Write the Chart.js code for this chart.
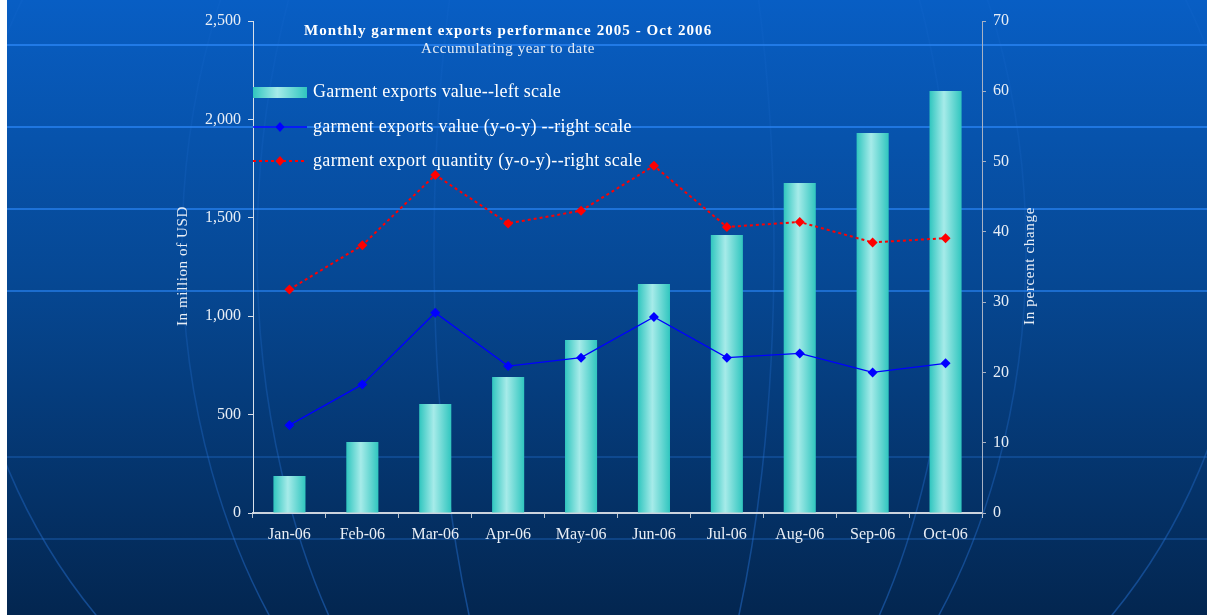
<!DOCTYPE html>
<html><head><meta charset="utf-8">
<script src="https://cdn.jsdelivr.net/npm/chart.js@4/dist/chart.umd.min.js"></script>
<style>html,body{margin:0;padding:0;background:#fff;overflow:hidden}</style>
</head><body>
<canvas id="c" width="1207" height="615" style="display:block;width:1207px;height:615px"></canvas>
<script>
const categories = ['Jan-06','Feb-06','Mar-06','Apr-06','May-06','Jun-06','Jul-06','Aug-06','Sep-06','Oct-06'];
const exportValue = [188, 361, 554, 691, 879, 1164, 1413, 1677, 1931, 2144];
const valueYoY = [12.5, 18.3, 28.5, 20.9, 22.1, 27.9, 22.1, 22.7, 20.0, 21.3];
const quantityYoY = [31.8, 38.1, 48.1, 41.2, 43.0, 49.4, 40.7, 41.4, 38.5, 39.1];
const leftAxis = {min: 0, max: 2500, step: 500};
const rightAxis = {min: 0, max: 70, step: 10};
const titleText = 'Monthly garment exports performance 2005 - Oct 2006';
const subtitleText = 'Accumulating year to date';
const legendLabels = ['Garment exports value--left scale', 'garment exports value (y-o-y) --right scale', 'garment export quantity (y-o-y)--right scale'];
const leftTitle = 'In million of USD';
const rightTitle = 'In percent change';

const SERIF = '"Liberation Serif", "Times New Roman", serif';
const TXT = '#e8eef6';
const BAR_PCT = 0.44;

function barGradient(c, x0, x1) {
  const g = c.createLinearGradient(x0, 0, x1, 0);
  g.addColorStop(0, '#30c6bf');
  g.addColorStop(0.45, '#a6ebe9');
  g.addColorStop(1, '#30c6bf');
  return g;
}

function drawFit(c, text, x, y, font, target, align) {
  c.font = font;
  if ('letterSpacing' in c) c.letterSpacing = '0px';
  const w = c.measureText(text).width;
  const ls = (target - w) / text.length;
  if ('letterSpacing' in c) c.letterSpacing = ls.toFixed(2) + 'px';
  c.textAlign = 'left';
  c.textBaseline = 'middle';
  const x0 = align === 'center' ? x - target / 2 : x;
  c.fillText(text, x0, y);
  if ('letterSpacing' in c) c.letterSpacing = '0px';
}

const bgPlugin = {
  id: 'bg',
  beforeDraw(chart) {
    const c = chart.ctx, W = chart.width, H = chart.height;
    c.save();
    const g = c.createLinearGradient(0, 0, 0, H);
    g.addColorStop(0, '#085ec4');
    g.addColorStop(0.45, '#064894');
    g.addColorStop(1, '#032650');
    c.fillStyle = g;
    c.fillRect(0, 0, W, H);
    // globe meridians (faint)
    c.lineWidth = 1.5;
    [170, 347, 422, 640].forEach((rx, i) => {
      const mg = c.createLinearGradient(0, 0, 0, H);
      mg.addColorStop(0, 'rgba(40,120,225,0.08)');
      mg.addColorStop(0.5, 'rgba(40,120,225,0.2)');
      mg.addColorStop(1, 'rgba(40,120,225,0.45)');
      c.strokeStyle = mg;
      c.beginPath();
      c.ellipse(604, 250, rx, 600, 0, 0, Math.PI * 2);
      c.stroke();
    });
    // latitude lines
    const lines = [[45, 'rgba(40,130,240,0.8)'], [127, 'rgba(40,130,240,0.75)'], [209, 'rgba(40,130,240,0.7)'],
                   [291, 'rgba(40,130,240,0.65)'], [457, 'rgba(40,120,220,0.3)'], [539, 'rgba(40,120,220,0.3)']];
    c.lineWidth = 2;
    lines.forEach(([y, col]) => {
      c.strokeStyle = col;
      c.beginPath(); c.moveTo(0, y); c.lineTo(W, y); c.stroke();
    });
    c.fillStyle = '#ffffff';
    c.fillRect(0, 0, 7, H);
    c.restore();
  },
  afterDraw(chart) {
    const c = chart.ctx;
    c.save();
    c.fillStyle = '#ffffff';
    drawFit(c, titleText, 508, 31, 'bold 15px ' + SERIF, 408, 'center');
    c.fillStyle = TXT;
    drawFit(c, subtitleText, 508, 49, '15px ' + SERIF, 174, 'center');
    // legend
    const lx0 = 253, lx1 = 307, tx = 313;
    const ys = [92, 127, 161];
    c.fillStyle = barGradient(c, lx0, lx1);
    c.fillRect(lx0, ys[0] - 5, lx1 - lx0, 11);
    c.strokeStyle = '#0000ff'; c.lineWidth = 1.3; c.setLineDash([]);
    c.beginPath(); c.moveTo(lx0, ys[1]); c.lineTo(lx1, ys[1]); c.stroke();
    c.strokeStyle = '#ff0000'; c.lineWidth = 2; c.setLineDash([3, 3]);
    c.beginPath(); c.moveTo(lx0, ys[2]); c.lineTo(lx1, ys[2]); c.stroke();
    c.setLineDash([]);
    const diamond = (x, y, col) => {
      c.fillStyle = col; c.beginPath();
      c.moveTo(x, y - 5); c.lineTo(x + 4.5, y); c.lineTo(x, y + 5); c.lineTo(x - 4.5, y); c.closePath(); c.fill();
    };
    diamond(280, ys[1], '#0000ff');
    diamond(280, ys[2], '#ff0000');
    c.fillStyle = '#ffffff';
    drawFit(c, legendLabels[0], tx, ys[0], '18px ' + SERIF, 248, 'left');
    drawFit(c, legendLabels[1], tx, ys[1], '18px ' + SERIF, 319, 'left');
    drawFit(c, legendLabels[2], tx, ys[2], '18px ' + SERIF, 329, 'left');
    // axis titles
    c.fillStyle = TXT;
    c.save(); c.translate(183, 266); c.rotate(-Math.PI / 2);
    drawFit(c, leftTitle, 0, 0, '15px ' + SERIF, 120, 'center'); c.restore();
    c.save(); c.translate(1030, 266); c.rotate(-Math.PI / 2);
    drawFit(c, rightTitle, 0, 0, '15px ' + SERIF, 118, 'center'); c.restore();
    c.restore();
  }
};

const tickFont = {family: SERIF, size: 16};

new Chart(document.getElementById('c'), {
  data: {
    labels: categories,
    datasets: [
      {
        type: 'line', label: legendLabels[1], data: valueYoY, yAxisID: 'y1', order: 1,
        borderColor: '#0000ff', borderWidth: 1.3, pointStyle: 'rectRot', pointRadius: 5,
        pointBackgroundColor: '#0000ff', pointBorderColor: '#0000ff', pointBorderWidth: 0, tension: 0
      },
      {
        type: 'line', label: legendLabels[2], data: quantityYoY, yAxisID: 'y1', order: 2,
        borderColor: '#ff0000', borderWidth: 2, borderDash: [3, 3], pointStyle: 'rectRot', pointRadius: 5,
        pointBackgroundColor: '#ff0000', pointBorderColor: '#ff0000', pointBorderWidth: 0, tension: 0
      },
      {
        type: 'bar', label: legendLabels[0], data: exportValue, yAxisID: 'y', order: 3,
        barPercentage: BAR_PCT, categoryPercentage: 1, borderWidth: 0,
        backgroundColor: (ctx) => {
          const chart = ctx.chart, xs = chart.scales && chart.scales.x;
          if (!xs || ctx.dataIndex === undefined || !chart.chartArea) return '#6ad6d2';
          const cx = xs.getPixelForValue(ctx.dataIndex);
          const w = (xs.width / categories.length) * BAR_PCT;
          return barGradient(chart.ctx, cx - w / 2, cx + w / 2);
        }
      }
    ]
  },
  options: {
    responsive: false, animation: false, devicePixelRatio: 1,
    layout: {padding: {top: 21, left: 0, right: 0, bottom: 0}},
    plugins: {legend: {display: false}, title: {display: false}, tooltip: {enabled: false}},
    scales: {
      x: {
        type: 'category', offset: true,
        grid: {display: true, drawOnChartArea: false, drawTicks: true, tickLength: 5, color: '#b8c2ce', offset: true},
        border: {display: true, color: '#ccd4de', width: 2},
        ticks: {color: TXT, font: tickFont, padding: 7, maxRotation: 0, autoSkip: false},
        afterFit: s => { s.height = 102; }
      },
      y: {
        position: 'left', min: leftAxis.min, max: leftAxis.max,
        grid: {display: true, drawOnChartArea: false, drawTicks: true, tickLength: 5, color: '#d8e0ea'},
        border: {display: true, color: '#d8e0ea', width: 1},
        ticks: {stepSize: leftAxis.step, color: TXT, font: tickFont, padding: 7,
          callback: v => v.toLocaleString('en-US')},
        afterFit: s => { s.width = 253; }
      },
      y1: {
        position: 'right', min: rightAxis.min, max: rightAxis.max,
        grid: {display: true, drawOnChartArea: false, drawTicks: true, tickLength: 4, color: '#a8b2c4'},
        border: {display: true, color: '#a8b2c4', width: 1},
        ticks: {stepSize: rightAxis.step, color: TXT, font: tickFont, padding: 7},
        afterFit: s => { s.width = 225; }
      }
    }
  },
  plugins: [bgPlugin]
});
</script>
</body></html>
